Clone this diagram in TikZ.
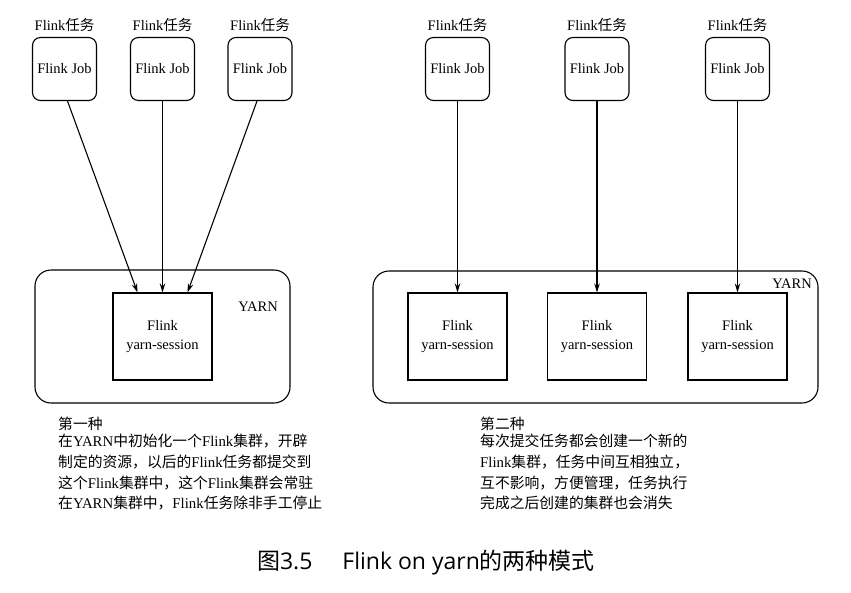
\documentclass[tikz,border=0pt]{standalone}
\usepackage{fontspec}
\setmainfont{Liberation Serif}
\newfontfamily\cjk{Noto Sans CJK SC}
\newfontfamily\capsans{Open Sans}
\newcommand{\zh}[1]{{\cjk #1}}
\usetikzlibrary{arrows.meta,calc}
\begin{document}
\begin{tikzpicture}[x=1pt,y=-1pt,
  every node/.style={inner sep=0pt},
  txt/.style={font=\fontsize{14.5}{17}\selectfont},
  job/.style={draw, rounded corners=8pt, minimum width=64pt, minimum height=63pt, line width=1.1pt, txt},
  sess/.style={draw, minimum width=99pt, minimum height=87pt, align=center, line width=1.1pt, font=\fontsize{14.5}{18.5}\selectfont},
  yarnbox/.style={draw, rounded corners=16pt, line width=1.1pt},
  arr/.style={-{Stealth[length=9pt,width=5.5pt]}, line width=1.1pt},
  desc/.style={anchor=base west, font=\fontsize{14.8}{17}\selectfont}]
\useasboundingbox (0,0) rectangle (851,592);
\fill[white] (0,0) rectangle (851,592);

% left part
\node[yarnbox, minimum width=255pt, minimum height=133pt] (y1) at (162.5,336.5) {};
\node[sess] (s1) at (162.5,336.5) {Flink\\yarn-session};
\node[txt] (yl1) at (258,307) {YARN};
\foreach \i/\x in {1/64.5,2/162.5,3/260}{
  \node[job] (j\i) at (\x,69) {Flink Job};
  \node[txt] (l\i) at (\x,25) {Flink\zh{任务}};
}
\draw[arr] ($(j1.south)+(3,0)$) -- ($(s1.north)+(-25,0)$);
\draw[arr] (j2.south) -- (s1.north);
\draw[arr] ($(j3.south)+(-3,0)$) -- ($(s1.north)+(25,0)$);

% right part
\node[yarnbox, minimum width=445pt, minimum height=132pt] (y2) at (595.5,337) {};
\node[txt] (yl2) at (792,284) {YARN};
\foreach \i/\x in {4/457.5,5/597,6/737.5}{
  \node[job] (j\i) at (\x,69) {Flink Job};
  \node[txt] (l\i) at (\x,25) {Flink\zh{任务}};
  \node[sess] (s\i) at (\x,336.5) {Flink\\yarn-session};
  \draw[arr] (j\i.south) -- (s\i.north);
}

% descriptions
\node[desc] (d0) at (58,429) {\zh{第一种}};
\node[desc] (d1) at (58,446) {\zh{在}YARN\zh{中初始化一个}Flink\zh{集群，开辟}};
\node[desc] (d2) at (58,467) {\zh{制定的资源，以后的}Flink\zh{任务都提交到}};
\node[desc] (d3) at (58,488) {\zh{这个}Flink\zh{集群中，这个}Flink\zh{集群会常驻}};
\node[desc] (d4) at (58,508) {\zh{在}YARN\zh{集群中，}Flink\zh{任务除非手工停止}};

\node[desc] (e0) at (480,429) {\zh{第二种}};
\node[desc] (e1) at (480,446) {\zh{每次提交任务都会创建一个新的}};
\node[desc] (e2) at (480,467) {Flink\zh{集群，任务中间互相独立，}};
\node[desc] (e3) at (480,488) {\zh{互不影响，方便管理，任务执行}};
\node[desc] (e4) at (480,508) {\zh{完成之后创建的集群也会消失}};

% caption
\node[font=\fontsize{23}{26}\selectfont] (cap) at (426,563) {\zh{图}{\capsans 3.5}\hspace{1.3em}{\capsans Flink on yarn}\zh{的两种模式}};
\end{tikzpicture}
\end{document}
